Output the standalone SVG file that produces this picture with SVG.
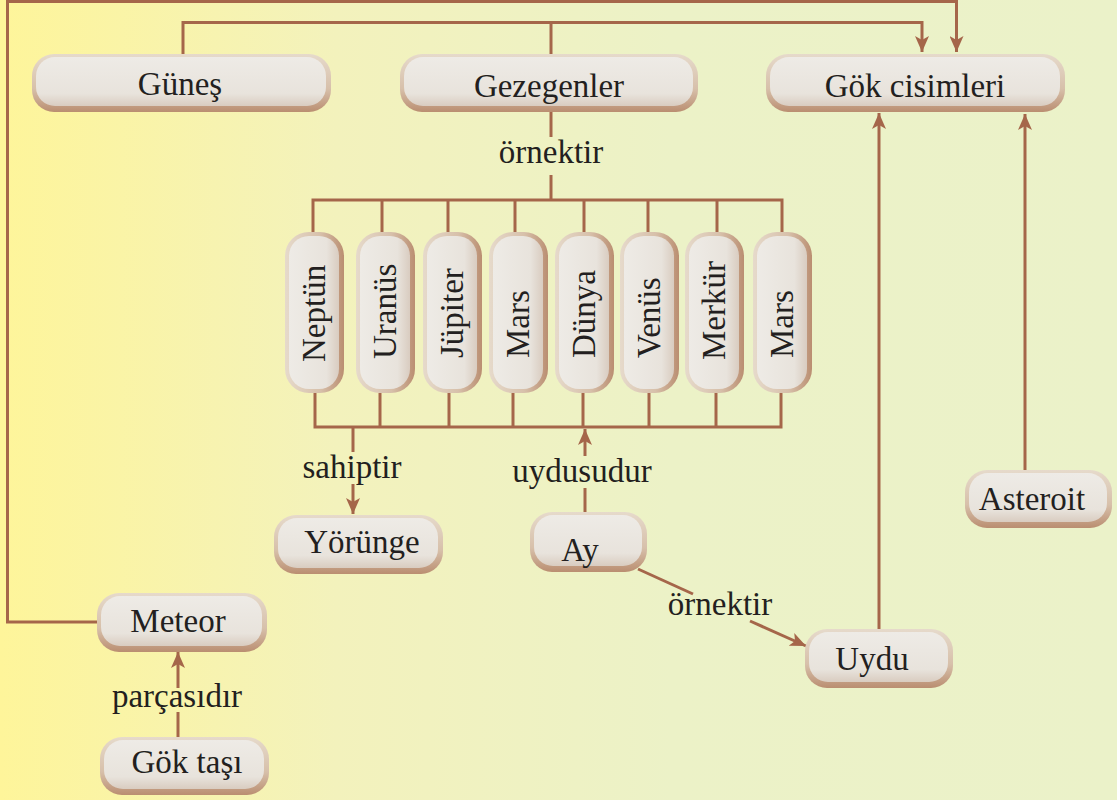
<svg xmlns="http://www.w3.org/2000/svg" width="1117" height="800" viewBox="0 0 1117 800">
<defs>
<linearGradient id="bg" x1="0" y1="0" x2="1" y2="0">
<stop offset="0" stop-color="#FEF59A"/>
<stop offset="0.3" stop-color="#F3F2BC"/>
<stop offset="0.6" stop-color="#ECF2C7"/>
<stop offset="1" stop-color="#EBF2C9"/>
</linearGradient>
<linearGradient id="rimH" x1="0" y1="0" x2="0" y2="1">
<stop offset="0" stop-color="#E6DACB"/>
<stop offset="0.6" stop-color="#D7C0AA"/>
<stop offset="1" stop-color="#BA8E71"/>
</linearGradient>
<linearGradient id="faceH" x1="0" y1="0" x2="0" y2="1">
<stop offset="0" stop-color="#EEEBE6"/>
<stop offset="0.75" stop-color="#E8E3DC"/>
<stop offset="1" stop-color="#D9CCC0"/>
</linearGradient>
<linearGradient id="rimV" x1="0" y1="0" x2="1" y2="0">
<stop offset="0" stop-color="#E6DACB"/>
<stop offset="0.6" stop-color="#D7C0AA"/>
<stop offset="1" stop-color="#BA8E71"/>
</linearGradient>
<linearGradient id="faceV" x1="0" y1="0" x2="1" y2="0">
<stop offset="0" stop-color="#EEEBE6"/>
<stop offset="0.75" stop-color="#E8E3DC"/>
<stop offset="1" stop-color="#D9CCC0"/>
</linearGradient>
<marker id="arr" markerUnits="userSpaceOnUse" markerWidth="16" markerHeight="14" viewBox="0 0 16 14" refX="16" refY="7" orient="auto">
<path d="M0,0 L16,7 L0,14 L4,7 Z" fill="#A5664A"/>
</marker>
</defs>
<style>
.rimH{fill:url(#rimH)}
.faceH{fill:url(#faceH)}
.rimV{fill:url(#rimV)}
.faceV{fill:url(#faceV)}
text{font-family:"Liberation Serif","DejaVu Serif",serif;font-size:33px;fill:#231F20}
.c{text-anchor:middle}
.ln{fill:none;stroke:#A5664A;stroke-width:3}
.ar{marker-end:url(#arr)}
</style>
<rect width="1117" height="800" fill="url(#bg)"/>

<g id="connectors">
<path class="ln ar" d="M97,622 H7.5 V1.5 H956.5 V52"/>
<path class="ln ar" d="M183,54 V22.5 H922 V52"/>
<path class="ln" d="M551,54 V22.5"/>
<path class="ln" d="M551,112 V137 M551,175 V200"/>
<path class="ln" d="M313,232 V200 H782 V232 M382,200 V232 M448,200 V232 M515,200 V232 M584,200 V232 M648,200 V232 M717,200 V232"/>
<path class="ln" d="M315,393 V427 H781 V393 M380,393 V427 M449,393 V427 M513,393 V427 M583,393 V427 M649,393 V427 M716,393 V427"/>
<path class="ln" d="M353,427 V452"/>
<path class="ln ar" d="M353,484 V514"/>
<path class="ln" d="M585,512 V488"/>
<path class="ln ar" d="M585,456 V429"/>
<path class="ln" d="M638,569 L693,594"/>
<path class="ln ar" d="M750,621 L806,646"/>
<path class="ln ar" d="M879,629 V113"/>
<path class="ln ar" d="M1025,470 V114"/>
<path class="ln" d="M178,737 V712"/>
<path class="ln ar" d="M178,688 V652"/>
<text class="c" x="551" y="163">örnektir</text>
<text class="c" x="352" y="478">sahiptir</text>
<text class="c" x="582" y="482">uydusudur</text>
<text class="c" x="720" y="615">örnektir</text>
<text class="c" x="177" y="707">parçasıdır</text>
</g>

<g id="gunes"><rect class="rimH" x="32" y="54" width="299" height="58" rx="22"/><rect class="faceH" x="36" y="57" width="290" height="49" rx="19"/><text class="c" x="180" y="95">Güneş</text></g>
<g id="gezegenler"><rect class="rimH" x="400" y="54" width="298" height="58" rx="22"/><rect class="faceH" x="404" y="57" width="289" height="49" rx="19"/><text class="c" x="549" y="97">Gezegenler</text></g>
<g id="gok-cisimleri"><rect class="rimH" x="766" y="54" width="299" height="58" rx="22"/><rect class="faceH" x="770" y="57" width="290" height="49" rx="19"/><text class="c" x="915" y="97">Gök cisimleri</text></g>

<g id="neptun"><rect class="rimV" x="285" y="232" width="59" height="161" rx="24"/><rect class="faceV" x="289" y="236" width="50" height="153" rx="20"/><text x="325" y="362" transform="rotate(-90 325 362)">Neptün</text></g>
<g id="uranus"><rect class="rimV" x="356" y="232" width="59" height="161" rx="24"/><rect class="faceV" x="360" y="236" width="50" height="153" rx="20"/><text x="396" y="359" transform="rotate(-90 396 359)">Uranüs</text></g>
<g id="jupiter"><rect class="rimV" x="423" y="232" width="59" height="161" rx="24"/><rect class="faceV" x="427" y="236" width="50" height="153" rx="20"/><text x="463" y="358" transform="rotate(-90 463 358)">Jüpiter</text></g>
<g id="mars1"><rect class="rimV" x="489" y="232" width="59" height="161" rx="24"/><rect class="faceV" x="493" y="236" width="50" height="153" rx="20"/><text x="529" y="358" transform="rotate(-90 529 358)">Mars</text></g>
<g id="dunya"><rect class="rimV" x="555" y="232" width="59" height="161" rx="24"/><rect class="faceV" x="559" y="236" width="50" height="153" rx="20"/><text x="595" y="358" transform="rotate(-90 595 358)">Dünya</text></g>
<g id="venus"><rect class="rimV" x="620" y="232" width="59" height="161" rx="24"/><rect class="faceV" x="624" y="236" width="50" height="153" rx="20"/><text x="660" y="358" transform="rotate(-90 660 358)">Venüs</text></g>
<g id="merkur"><rect class="rimV" x="685" y="232" width="59" height="161" rx="24"/><rect class="faceV" x="689" y="236" width="50" height="153" rx="20"/><text x="725" y="360" transform="rotate(-90 725 360)">Merkür</text></g>
<g id="mars2"><rect class="rimV" x="753" y="232" width="59" height="161" rx="24"/><rect class="faceV" x="757" y="236" width="50" height="153" rx="20"/><text x="793" y="358" transform="rotate(-90 793 358)">Mars</text></g>

<g id="yorunge"><rect class="rimH" x="274" y="515" width="169" height="59" rx="22"/><rect class="faceH" x="278" y="518" width="160" height="50" rx="19"/><text class="c" x="362" y="553">Yörünge</text></g>
<g id="ay"><rect class="rimH" x="530" y="512" width="117" height="60" rx="22"/><rect class="faceH" x="534" y="515" width="108" height="51" rx="19"/><text class="c" x="580" y="561">Ay</text></g>
<g id="uydu"><rect class="rimH" x="805" y="629" width="148" height="59" rx="22"/><rect class="faceH" x="809" y="632" width="139" height="50" rx="19"/><text class="c" x="872" y="670">Uydu</text></g>
<g id="asteroit"><rect class="rimH" x="965" y="470" width="147" height="58" rx="22"/><rect class="faceH" x="969" y="473" width="138" height="49" rx="19"/><text class="c" x="1032" y="510">Asteroit</text></g>
<g id="meteor"><rect class="rimH" x="97" y="593" width="170" height="59" rx="22"/><rect class="faceH" x="101" y="596" width="161" height="50" rx="19"/><text class="c" x="178" y="632">Meteor</text></g>
<g id="gok-tasi"><rect class="rimH" x="100" y="737" width="169" height="58" rx="22"/><rect class="faceH" x="104" y="740" width="160" height="49" rx="19"/><text class="c" x="187" y="773">Gök taşı</text></g>
</svg>
